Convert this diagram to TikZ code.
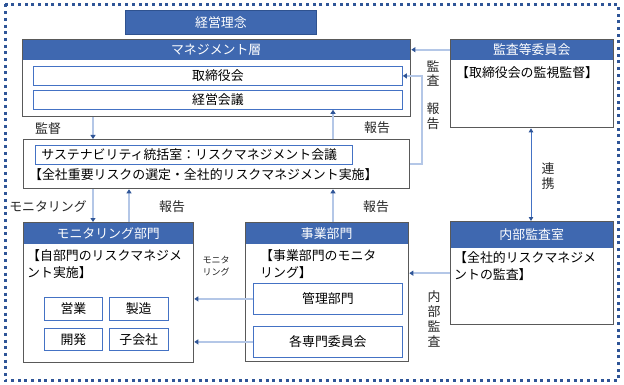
\documentclass[tikz,border=0pt]{standalone}
\usepackage{fontspec}
\setmainfont{Noto Sans CJK JP}
\usepackage{tikz}
\usetikzlibrary{positioning,arrows.meta}
\definecolor{rmBlue}{HTML}{3F68B0}
\definecolor{rmNavy}{HTML}{2F528F}
\definecolor{rmEdge}{HTML}{4472C4}
\definecolor{rmFlow}{HTML}{B4C7E7}
\definecolor{rmTip}{HTML}{2F5597}
\definecolor{rmFrame}{HTML}{595959}
\newcommand{\bodysize}{\fontsize{12.9}{17}\selectfont}
\tikzset{
  panel/.style={draw=rmFrame,line width=1.3pt,anchor=north west,inner sep=0pt},
  headbar/.style={fill=rmBlue,text=white,anchor=north west,inner sep=0pt,
    font=\bodysize},
  subbox/.style={draw=rmEdge,line width=0.8pt,fill=white,anchor=north west,
    inner sep=0pt,font=\bodysize},
  bodytext/.style={anchor=west,align=left,inner sep=0pt,font=\bodysize},
  flowlabel/.style={inner sep=0pt,text=black!85,font=\bodysize},
  vlabel/.style={inner sep=0pt,text=black!85,align=center,
    font=\fontsize{12.9}{14.5}\selectfont},
  smalllabel/.style={inner sep=0pt,text=black!85,align=center,
    font=\fontsize{9}{12}\selectfont},
  flow/.style={-{Triangle[length=4pt,width=5pt,color=rmTip]},line width=1.7pt,draw=rmFlow},
  link/.style={{Triangle[length=4pt,width=4.5pt,color=rmTip]}-{Triangle[length=4pt,width=4.5pt,color=rmTip]},
    line width=0.9pt,draw=rmEdge}
}

\begin{document}
\begin{tikzpicture}[x=1pt,y=-1pt]
  \useasboundingbox (0,0) rectangle (624,385);
  \draw[rmTip,line width=3pt,dash pattern=on 3pt off 3.7pt] (5,4.5) rectangle (618.5,380.5);

  \node[headbar,draw=rmNavy,line width=0.8pt,minimum width=191pt,minimum height=24pt] (rinen) at (125,10) {経営理念};

  \node[headbar,minimum width=388pt,minimum height=21pt] (mgmthead) at (22,39) {マネジメント層};
  \node[panel,minimum width=388pt,minimum height=77pt] (mgmt) at (22,39) {};
  \node[subbox,minimum width=369pt,minimum height=19pt] (tori) at (33,66) {取締役会};
  \node[subbox,minimum width=369pt,minimum height=19pt] (keiei) at (33,90) {経営会議};

  \node[headbar,minimum width=163pt,minimum height=21pt] (audithead) at (450,39) {監査等委員会};
  \node[panel,minimum width=163pt,minimum height=88pt] (audit) at (450,39) {};
  \node[bodytext] (auditnote) at (456,73) {【取締役会の監視監督】};

  \node[panel,minimum width=386pt,minimum height=49pt] (sust) at (23,139) {};
  \node[subbox,text width=305pt,inner xsep=6pt,minimum height=19pt,align=left] (sustcore) at (35,145) {サステナビリティ統括室：リスクマネジメント会議};
  \node[bodytext] (sustnote) at (29,175) {【全社重要リスクの選定・全社的リスクマネジメント実施】};

  \node[headbar,minimum width=170pt,minimum height=22pt] (monhead) at (23,222) {モニタリング部門};
  \node[panel,minimum width=170pt,minimum height=140pt] (mon) at (23,222) {};
  \node[bodytext] (monnote) at (27,264.5) {【自部門のリスクマネジメ\\ント実施】};
  \node[subbox,minimum width=58pt,minimum height=23pt] (eigyo) at (44,297) {営業};
  \node[subbox,minimum width=59pt,minimum height=23pt,right=6pt of eigyo] (seizo) {製造};
  \node[subbox,minimum width=58pt,minimum height=22pt] (kaihatsu) at (44,328) {開発};
  \node[subbox,minimum width=59pt,minimum height=22pt,right=6pt of kaihatsu] (kogaisha) {子会社};

  \node[headbar,minimum width=163pt,minimum height=22pt] (bizhead) at (245,222) {事業部門};
  \node[panel,minimum width=163pt,minimum height=139pt] (biz) at (245,222) {};
  \node[bodytext] (biznote) at (260,264) {【事業部門のモニタ\\リング】};
  \node[subbox,minimum width=149pt,minimum height=31pt] (kanri) at (253,283) {管理部門};
  \node[subbox,minimum width=149pt,minimum height=31pt] (senmon) at (253,326) {各専門委員会};

  \node[headbar,minimum width=163pt,minimum height=27pt] (internalhead) at (450,221) {内部監査室};
  \node[panel,minimum width=163pt,minimum height=103pt] (internal) at (450,221) {};
  \node[bodytext] (internalnote) at (454,266.5) {【全社的リスクマネジメ\\ントの監査】};

  \coordinate (colA) at (93,0);
  \coordinate (colB) at (129,0);
  \coordinate (colC) at (333,0);
  \coordinate (colD) at (531,0);
  \coordinate (colE) at (422,0);

  \draw[flow] (colA |- mgmt.south) -- (colA |- sust.north);
  \draw[flow] (colC |- sust.north) -- (colC |- keiei.south);
  \draw[flow] (sust.east) -- (colE |- sust.east) |- (tori.east);
  \draw[flow] (audithead.west) -- (audithead.west -| mgmt.east);
  \draw[link] (colD |- audit.south) -- (colD |- internal.north);
  \draw[flow] (colA |- sust.south) -- (colA |- mon.north);
  \draw[flow] (colB |- mon.north) -- (colB |- sust.south);
  \draw[flow] (colC |- biz.north) -- (colC |- sust.south);
  \draw[flow] (kanri.west) -- (kanri.west -| mon.east);
  \draw[flow] (senmon.west) -- (senmon.west -| mon.east);
  \draw[flow] (internal.west) -- (internal.west -| biz.east);

  \node[flowlabel] (lblkantoku) at (48,129) {監督};
  \node[flowlabel] (lblhokokuA) at (377,128) {報告};
  \node[vlabel] (lblkansa) at (433,73.5) {監\\査};
  \node[vlabel] (lblhokokuB) at (433,116) {報\\告};
  \node[vlabel] (lblrenkei) at (548,176) {連\\携};
  \node[flowlabel] (lblmonitor) at (48,207) {モニタリング};
  \node[flowlabel] (lblhokokuC) at (172,207) {報告};
  \node[flowlabel] (lblhokokuD) at (376,207) {報告};
  \node[smalllabel] (lblmonitorB) at (216,266) {モニタ\\リング};
  \node[vlabel,font=\fontsize{12.9}{15}\selectfont] (lblnaibu) at (434,318.5) {内\\部\\監\\査};
\end{tikzpicture}
\end{document}
